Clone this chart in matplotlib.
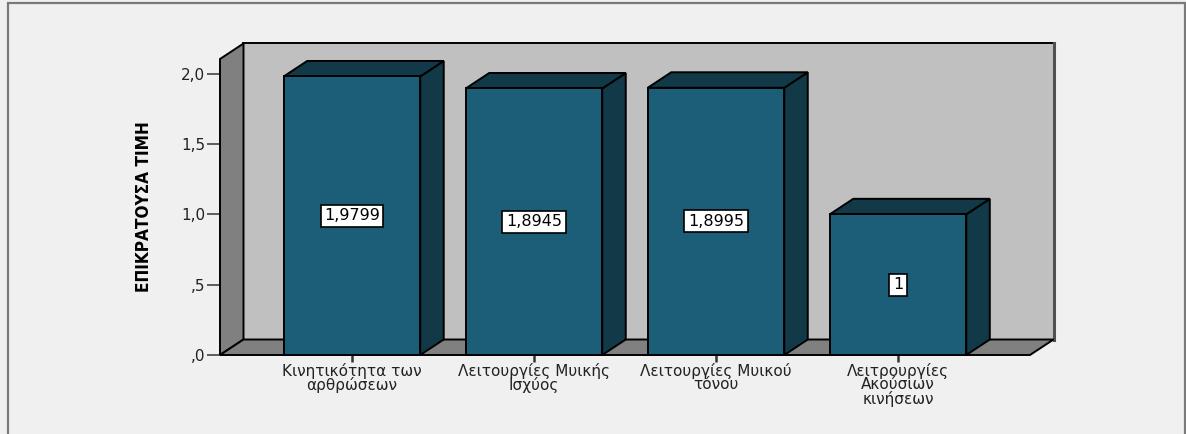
import matplotlib.pyplot as plt
from matplotlib.patches import Polygon, Rectangle
import numpy as np

# 数据
categories = ['Κινητικότητα των\nαρθρώσεων',
              'Λειτουργίες Μυικής\nΙσχύος',
              'Λειτουργίες Μυικού\nτόνου',
              'Λειτρουργίες\nΑκούσιων\nκινήσεων']
values = [1.9799, 1.8945, 1.8995, 1.0]
y_ticks = [0.0, 0.5, 1.0, 1.5, 2.0]
y_label = 'ΕΠΙΚΡΑΤΟΥΣΑ ΤΙΜΗ'

front_col = '#1c5e77'
dark_col = '#123947'
wall_col = '#c0c0c0'
floor_col = '#808080'

W, H = 1186, 434
fig = plt.figure(figsize=(W / 100, H / 100), dpi=100, facecolor='#f0f0f0')

# 外框
fig.add_artist(Rectangle((7.5 / W, -0.05), (1185 - 7.5) / W, (431 + 22) / H,
                         transform=fig.transFigure, fill=False,
                         ec='#7a7a7a', lw=1.6))

ax_l, ax_b, ax_w, ax_h = 220, 355, 810, 296
ax = fig.add_axes([ax_l / W, 1 - ax_b / H, ax_w / W, ax_h / H])
ax.set_facecolor('none')
x = np.arange(len(values))
xmin, xmax = -0.725, len(values) - 1 + 0.725
ymax = 2.104
ax.set_xlim(xmin, xmax)
ax.set_ylim(0, ymax)
for s in ax.spines.values():
    s.set_visible(False)

# 3D 深度 (像素 -> 数据单位)
dx = 23.5 * (xmax - xmin) / ax_w
dy = 15.5 * ymax / ax_h
kw = dict(ec='black', lw=1.4, clip_on=False, joinstyle='miter')

# 背墙, 左墙, 地面
ax.add_patch(Polygon([(xmin + dx, dy), (xmax + dx, dy), (xmax + dx, ymax + dy),
                      (xmin + dx, ymax + dy)], fc=wall_col, zorder=1, **kw))
ax.plot([xmax + dx + 0.004] * 2, [dy, ymax + dy], color='#505050', lw=2.2,
        clip_on=False, zorder=1)
ax.add_patch(Polygon([(xmin, 0), (xmin + dx, dy), (xmin + dx, ymax + dy),
                      (xmin, ymax)], fc=floor_col, zorder=2, **kw))
ax.add_patch(Polygon([(xmin, 0), (xmax, 0), (xmax + dx, dy), (xmin + dx, dy)],
                     fc=floor_col, zorder=2, **kw))

# 立体柱
bw = 0.75
for xi, v in zip(x, values):
    l, r = xi - bw / 2, xi + bw / 2
    ax.add_patch(Polygon([(r, 0), (r + dx, dy), (r + dx, v + dy), (r, v)],
                         fc=dark_col, zorder=3, **kw))
    ax.add_patch(Polygon([(l, v), (r, v), (r + dx, v + dy), (l + dx, v + dy)],
                         fc=dark_col, zorder=3, **kw))
    ax.add_patch(Rectangle((l, 0), bw, v, fc=front_col, zorder=4, **kw))
    lab = f'{v:.4f}'.rstrip('0').rstrip('.').replace('.', ',')
    ax.text(xi, v / 2, lab, ha='center', va='center', fontsize=11.5,
            family='DejaVu Sans', zorder=5,
            bbox=dict(boxstyle='square,pad=0.22', fc='white', ec='black', lw=1.2))

# 坐标轴
ax.set_yticks(y_ticks)
ax.set_yticklabels([f'{t:.1f}'.replace('.', ',').lstrip('0') if t < 1
                    else f'{t:.1f}'.replace('.', ',') for t in y_ticks],
                   fontsize=11, color='#222222')
ax.tick_params(axis='y', direction='out', length=9.5, width=1.1,
               color='#333333', pad=1.0)
ax.set_xticks(x)
ax.set_xticklabels(categories, fontsize=11, color='#222222', linespacing=0.86)
ax.tick_params(axis='x', direction='out', length=4.8, width=1.8,
               color='#333333', pad=1.0)

ylab = fig.text(144 / W, 1 - 207 / H, y_label, rotation=90, ha='center',
                va='center', fontsize=17, fontweight='bold', fontstretch='condensed',
                family=['Liberation Sans Narrow', 'DejaVu Sans'])
# 字体缩放到约 172 像素长
renderer = fig.canvas.get_renderer()
length = ylab.get_window_extent(renderer).height
ylab.set_fontsize(17 * 172 / length)

fig.savefig('out.png', dpi=100, facecolor=fig.get_facecolor())
